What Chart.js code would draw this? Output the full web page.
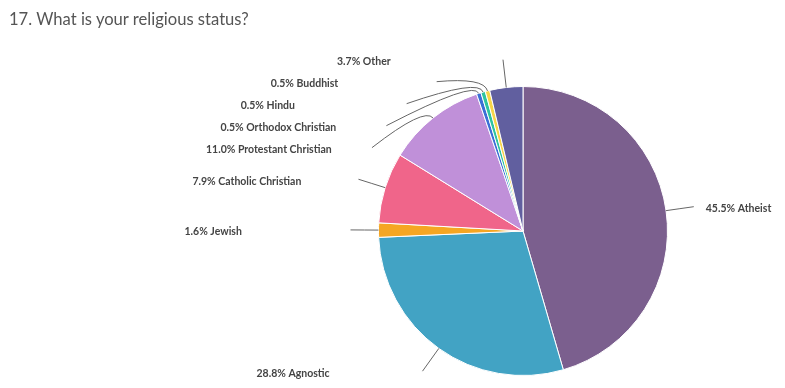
<!DOCTYPE html>
<html><head><meta charset="utf-8">
<script src="https://cdn.jsdelivr.net/npm/chart.js@4.4.1/dist/chart.umd.min.js"></script>
<style>
html,body{margin:0;padding:0;background:#fff;}
#wrap{position:relative;width:785px;height:388px;overflow:hidden;}
#c{position:absolute;left:0;top:0;}
#title{position:absolute;left:9px;top:9px;font-family:Lato,"Open Sans",sans-serif;font-size:16.6px;color:#555;white-space:nowrap;}
</style></head><body>
<div id="wrap"><canvas id="c" width="785" height="388"></canvas><div id="title">17. What is your religious status?</div></div>
<script>
const categories = ["Atheist","Agnostic","Jewish","Catholic Christian","Protestant Christian","Orthodox Christian","Hindu","Buddhist","Other"];
const percentages = [45.5, 28.8, 1.6, 7.9, 11.0, 0.5, 0.5, 0.5, 3.7];
const sliceColors = ["#7b5f8e","#42a3c4","#f5a623","#f0658a","#c090d9","#3b6fd6","#2ec4a0","#f7d548","#615f9f"];

const labelPlugin = {
  id: 'outerLabels',
  afterDatasetsDraw(chart) {
    const ctx = chart.ctx;
    const meta = chart.getDatasetMeta(0);
    const items = [];
    meta.data.forEach((arc, i) => {
      const p = arc.getProps(['x','y','startAngle','endAngle','outerRadius'], true);
      const mid = (p.startAngle + p.endAngle) / 2;
      const R2 = p.outerRadius + 28;
      items.push({i, cx:p.x, cy:p.y, r:p.outerRadius, mid, R2,
        left: Math.cos(mid) < 0, y: p.y + R2 * Math.sin(mid)});
    });
    const gap = 22;
    [true, false].forEach(side => {
      const s = items.filter(it => it.left === side).sort((a,b) => a.y - b.y);
      for (let k = 1; k < s.length; k++) {
        if (s[k].y < s[k-1].y + gap) s[k].y = s[k-1].y + gap;
      }
    });
    ctx.save();
    items.forEach(it => {
      const dy = it.y - it.cy;
      const dx = Math.sqrt(Math.max(it.R2*it.R2 - dy*dy, 0));
      const ex = it.left ? it.cx - dx : it.cx + dx;
      const ey = it.y;
      const sx = it.cx + it.r * Math.cos(it.mid), sy = it.cy + it.r * Math.sin(it.mid);
      const qx = it.cx + (it.r + 14) * Math.cos(it.mid), qy = it.cy + (it.r + 14) * Math.sin(it.mid);
      ctx.beginPath();
      ctx.moveTo(sx, sy);
      ctx.quadraticCurveTo(qx, qy, ex, ey);
      ctx.strokeStyle = '#666';
      ctx.lineWidth = 1;
      ctx.stroke();
      const txt = percentages[it.i].toFixed(1) + '% ' + categories[it.i];
      ctx.font = 'bold 10.5px Lato, "Open Sans", sans-serif';
      ctx.fillStyle = '#444';
      ctx.textBaseline = 'middle';
      ctx.textAlign = 'left';
      const tx = it.left ? ex - 166 : ex + 12;
      ctx.fillText(txt, tx, ey + 2);
    });
    ctx.restore();
  }
};

new Chart(document.getElementById('c'), {
  type: 'pie',
  data: {
    labels: categories,
    datasets: [{
      data: percentages,
      backgroundColor: sliceColors,
      borderColor: '#ffffff',
      borderWidth: 1
    }]
  },
  options: {
    responsive: false,
    animation: false,
    layout: { padding: { left: 378, right: 117, top: 85, bottom: 11 } },
    plugins: { legend: { display: false }, tooltip: { enabled: false }, title: { display: false } }
  },
  plugins: [labelPlugin]
});
</script>
</body></html>
